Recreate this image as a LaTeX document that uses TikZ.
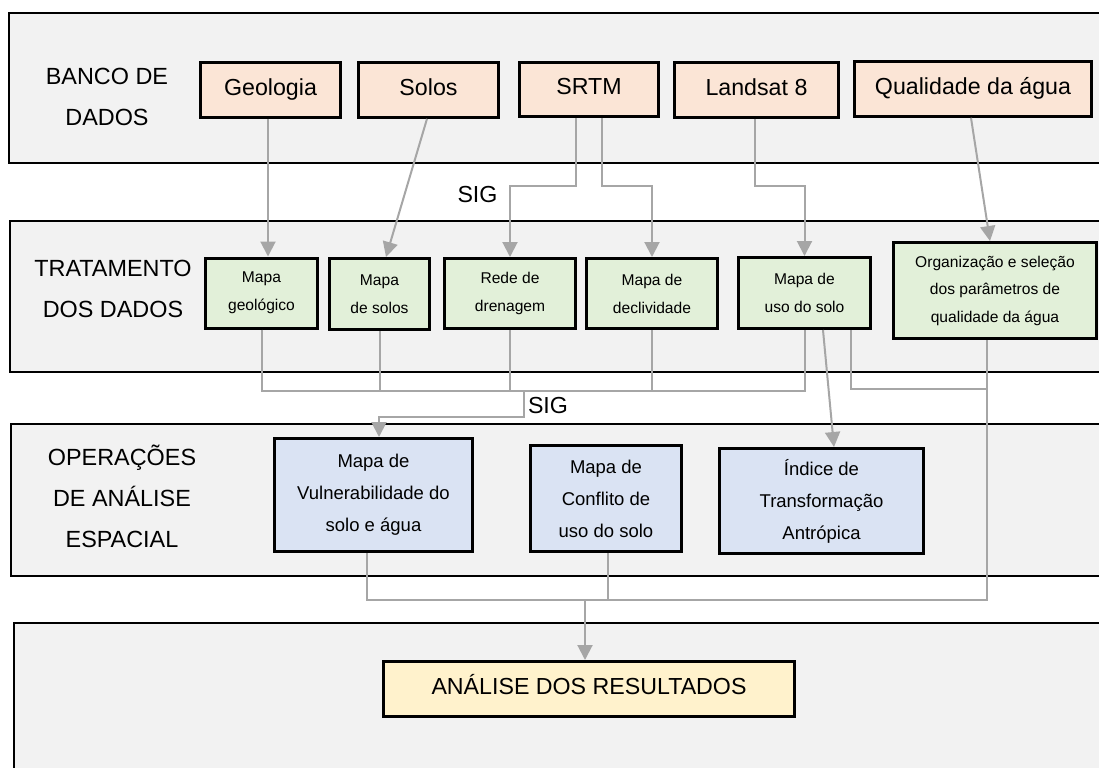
\documentclass[tikz,border=0pt]{standalone}
\usepackage{fontspec}
\setmainfont{Liberation Sans}
\usetikzlibrary{arrows.meta}

\definecolor{bandgray}{HTML}{F2F2F2}
\definecolor{linkgray}{HTML}{A6A6A6}
\definecolor{srcfill}{HTML}{FBE5D6}
\definecolor{procfill}{HTML}{E2F0D9}
\definecolor{opfill}{HTML}{DAE3F3}
\definecolor{resfill}{HTML}{FFF2CC}

\begin{document}
\begin{tikzpicture}[x=0.5pt, y=-0.5pt, >={Triangle[length=7.5pt, width=7.5pt]},
  band/.style={draw=black, line width=1.3pt, fill=bandgray},
  bandlabel/.style={align=center, font=\fontsize{11.7}{20.5}\selectfont},
  box/.style={draw=black, line width=1.5pt, inner sep=0pt, align=center},
  onelinebox/.style={box, text height=0.75em, text depth=0.22em,
                     minimum height=27.3pt, font=\fontsize{11.6}{14}\selectfont},
  srcbox/.style={onelinebox, fill=srcfill},
  procbox/.style={box, fill=procfill, minimum height=35pt, font=\fontsize{7.8}{14}\selectfont},
  opbox/.style={box, fill=opfill, font=\fontsize{9.25}{16}\selectfont},
  link/.style={draw=linkgray, line width=1pt},
  arr/.style={link, ->}]

\clip (0,0) rectangle (1099,767);

% Bands
\draw[band] (9,13) rectangle (1115,163);
\draw[band] (10,221) rectangle (1115,372);
\draw[band] (11,424) rectangle (1115,576);
\draw[band] (14,623) rectangle (1115,800);

% Band labels
\node[bandlabel] (bd) at (107,96.5) {BANCO DE\\DADOS};
\node[bandlabel] (td) at (113,289) {TRATAMENTO\\DOS DADOS};
\node[bandlabel] (oe) at (122,496) {OPERAÇÕES\\DE ANÁLISE\\ESPACIAL};

% Nodes - data
\node[srcbox, minimum width=70pt] (geo) at (270.5,90) {Geologia};
\node[srcbox, minimum width=70pt] (sol) at (428.5,90) {Solos};
\node[srcbox, minimum width=69.5pt] (srtm) at (589,89.5) {SRTM};
\node[srcbox, minimum width=82pt] (land) at (756.5,90) {Landsat 8};
\node[srcbox, minimum width=118.5pt] (qual) at (973,89) {Qualidade da água};

% Nodes - treatment
\node[procbox, minimum width=56pt] (mgeo) at (261.5,293) {Mapa\\geológico};
\node[procbox, minimum width=50pt, minimum height=35.5pt] (msol) at (379.5,294) {Mapa\\de solos};
\node[procbox, minimum width=65.5pt] (rede) at (510,293.5) {Rede de\\drenagem};
\node[procbox, minimum width=65.5pt] (decl) at (652,293.5) {Mapa de\\declividade};
\node[procbox, minimum width=66pt, minimum height=35.5pt] (uso) at (804.5,293) {Mapa de\\uso do solo};
\node[procbox, minimum width=101.5pt, minimum height=48pt,
      font=\fontsize{7.8}{13.75}\selectfont] (org) at (995,290.5)
      {Organização e seleção\\dos parâmetros de\\qualidade da água};

% Nodes - operations
\node[opbox, minimum width=99pt, minimum height=56.5pt] (vul) at (373.5,495) {Mapa de\\Vulnerabilidade do\\solo e água};
\node[opbox, minimum width=75.5pt, minimum height=53pt] (conf) at (606,498.5) {Mapa de\\Conflito de\\uso do solo};
\node[opbox, minimum width=102pt, minimum height=52.5pt] (ind) at (821.5,501) {Índice de\\Transformação\\Antrópica};

% Node - results
\node[onelinebox, fill=resfill, minimum width=205.5pt, minimum height=27.5pt] (res) at (589,689) {ANÁLISE DOS RESULTADOS};

% SIG labels
\node[font=\fontsize{11.6}{14}\selectfont] (sig1) at (477.5,195) {SIG};
\node[font=\fontsize{11.6}{14}\selectfont] (sig2) at (548,406) {SIG};

% Arrows - data to treatment
\draw[arr] ([xshift=-1.25pt]geo.south) -- ([xshift=3.25pt]mgeo.north);
\draw[arr] ([xshift=-0.75pt]sol.south) -- ([xshift=3.25pt]msol.north);
\draw[arr] ([xshift=-6.5pt]srtm.south) -- ++(0,68) -| (rede.north);
\draw[arr] ([xshift=6.5pt]srtm.south) -- ++(0,68) -| (decl.north);
\draw[arr] ([xshift=-0.75pt]land.south) -- ++(0,67) -| (uso.north);
\draw[arr] ([xshift=-1pt]qual.south) -- ([xshift=-2.5pt]org.north);

% Arrows - treatment to operations
\coordinate (bus) at (0,391);
\coordinate (sigdn) at (524,391);
\draw[link] (mgeo.south) |- (bus -| uso.south) -- (uso.south);
\draw[link] (msol.south) -- (msol.south |- bus);
\draw[link] (rede.south) -- (rede.south |- bus);
\draw[link] (decl.south) -- (decl.south |- bus);
\draw[arr] (sigdn) -- ++(0,26) -| ([xshift=2.75pt]vul.north);
\draw[arr] ([xshift=9.25pt]uso.south) -- ([xshift=6.25pt]ind.north);
\draw[link] ([xshift=23pt]uso.south) -- ++(0,59) -| ([xshift=-4pt]org.south);

% Arrows - operations to results
\coordinate (lowbus) at (585,600);
\draw[link] ([xshift=-4pt]org.south) -- ++(0,260) -| ([xshift=-3.25pt]vul.south);
\draw[link] ([xshift=1pt]conf.south) |- (lowbus);
\draw[arr] (lowbus) -- ([xshift=-2pt]res.north);

\end{tikzpicture}
\end{document}
